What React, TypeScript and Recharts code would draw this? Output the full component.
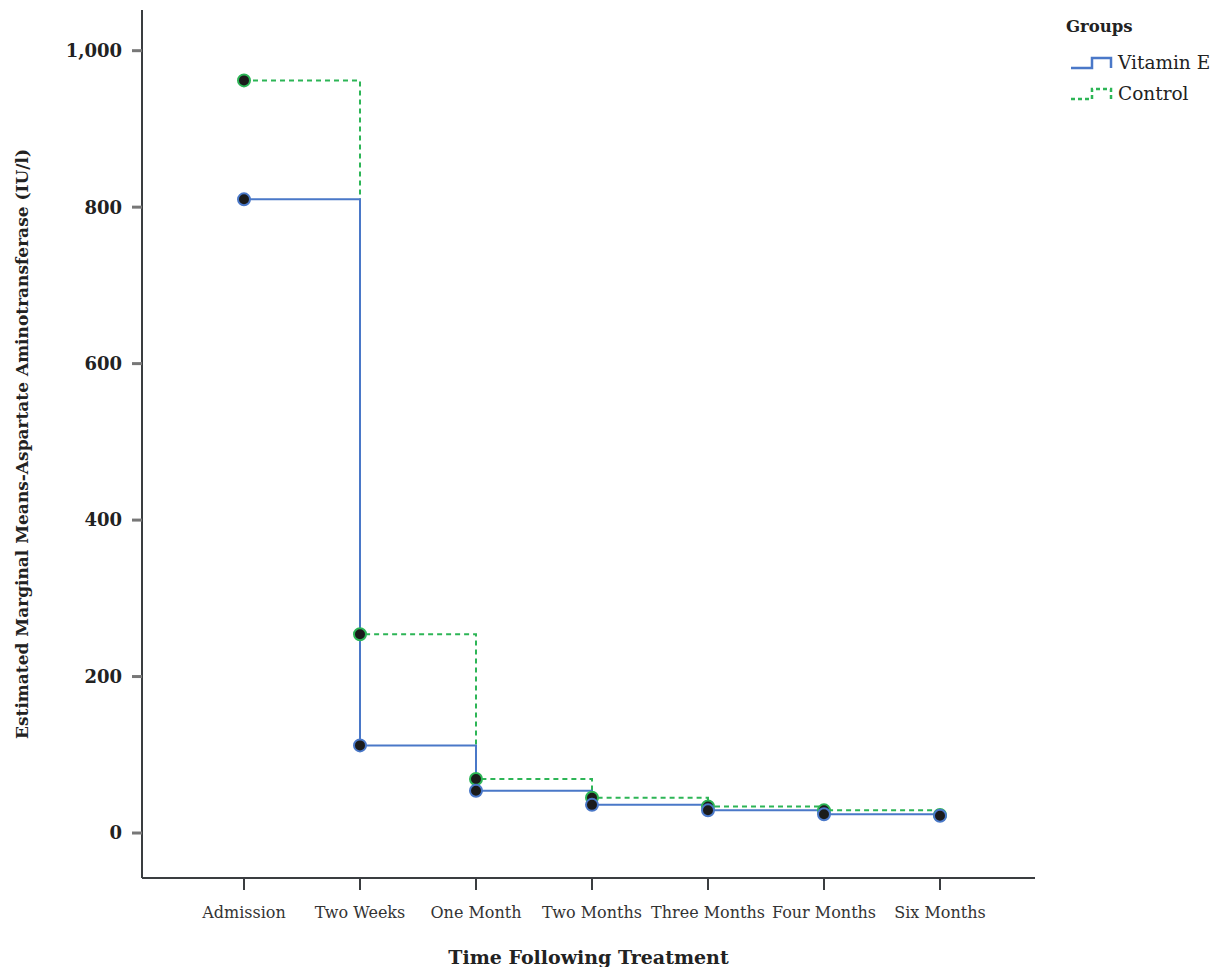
import * as React from "react"
import { LineChart, Line, XAxis, YAxis } from "recharts"

const timePoints = ["Admission", "Two Weeks", "One Month", "Two Months", "Three Months", "Four Months", "Six Months"]
const vitaminE = [810, 112, 54, 36, 29, 24, 22]
const control = [962, 254, 69, 45, 34, 29, 23]
const yTicks = [0, 200, 400, 600, 800, 1000]

const data = timePoints.map((t, i) => ({ time: t, vitaminE: vitaminE[i], control: control[i] }))

const BLUE = "#4a78c8"
const GREEN = "#2db556"
const AXIS = "#3a3d40"
const FONT = "'DejaVu Serif', 'Liberation Serif', serif"

function GroupsLegend() {
  return (
    <div style={{ position: "absolute", left: 1058, top: 6, fontFamily: FONT, color: "#222" }}>
      <div style={{ fontWeight: "bold", fontSize: 16.5, height: 33, lineHeight: "26px" }}>Groups</div>
      {[
        { name: "Vitamin E", color: BLUE, dash: undefined },
        { name: "Control", color: GREEN, dash: "4 3" },
      ].map((g) => (
        <div key={g.name} style={{ display: "flex", alignItems: "center", height: 31, marginLeft: 4 }}>
          <svg width={44} height={18} style={{ marginRight: 4 }}>
            <path d="M1 14 H22 V4 H41 V14" fill="none" stroke={g.color} strokeWidth={2.5} strokeDasharray={g.dash} />
          </svg>
          <span style={{ fontSize: 18.5 }}>{g.name}</span>
        </div>
      ))}
    </div>
  )
}

function Dot(props: any) {
  const { cx, cy, stroke } = props
  if (cx == null || cy == null) return null
  return <circle cx={cx} cy={cy} r={6} fill="#1b1b1b" stroke={stroke} strokeWidth={2} />
}

export default function App() {
  return (
    <div style={{ position: "relative", width: 1210, height: 959 }}>
      <LineChart width={1210} height={959} data={data} margin={{ top: 2, right: 183, bottom: 8, left: 0 }}>
        <XAxis
          dataKey="time"
          scale="point"
          padding={{ left: 102, right: 95 }}
          axisLine={{ stroke: AXIS, strokeWidth: 2 }}
          tickLine={{ stroke: AXIS, strokeWidth: 2 }}
          tickSize={12}
          tick={{ fill: "#333", fontSize: 16, fontFamily: FONT, dy: 15 }}
          label={{
            value: "Time Following Treatment",
            position: "insideBottom",
            offset: -5,
            style: { fontFamily: FONT, fontWeight: "bold", fontSize: 19, fill: "#222" },
          }}
          height={81}
        />
        <YAxis
          type="number"
          domain={[-57.5, 1052]}
          allowDataOverflow
          ticks={yTicks}
          width={134}
          axisLine={{ stroke: AXIS, strokeWidth: 2 }}
          tickLine={{ stroke: "#777", strokeWidth: 3 }}
          tickSize={10}
          tickFormatter={(v: number) => v.toLocaleString("en-US")}
          tick={{ fill: "#222", fontSize: 18, fontWeight: "bold", fontFamily: FONT, dx: -8 }}
          label={{
            value: "Estimated Marginal Means-Aspartate Aminotransferase (IU/l)",
            angle: -90,
            position: "insideLeft",
            offset: 14,
            style: { textAnchor: "middle", fontFamily: FONT, fontWeight: "bold", fontSize: 17, fill: "#222" },
          }}
        />
        <Line
          type="stepAfter"
          dataKey="control"
          stroke={GREEN}
          strokeWidth={2}
          strokeDasharray="5 4"
          dot={<Dot />}
          isAnimationActive={false}
        />
        <Line
          type="stepAfter"
          dataKey="vitaminE"
          stroke={BLUE}
          strokeWidth={2}
          dot={<Dot />}
          isAnimationActive={false}
        />
      </LineChart>
      <GroupsLegend />
    </div>
  )
}
